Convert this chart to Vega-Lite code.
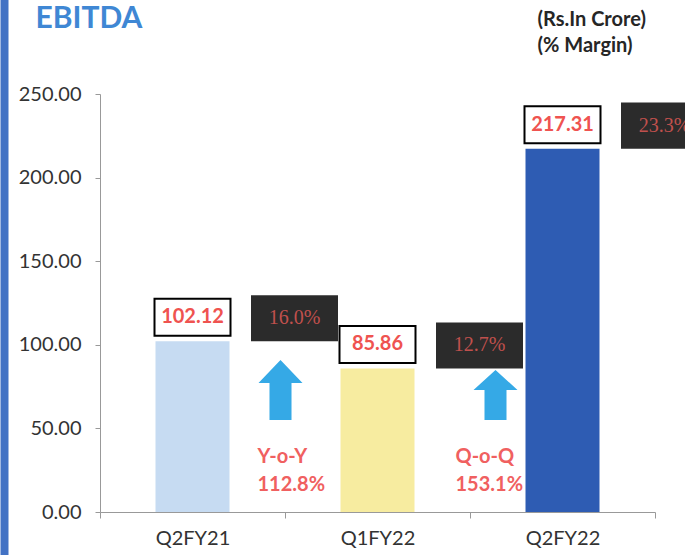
{
  "$schema": "https://vega.github.io/schema/vega-lite/v6.json",
  "width": 555,
  "height": 418,
  "autosize": {"type": "none"},
  "padding": {"left": 100, "top": 94, "right": 30, "bottom": 43},
  "background": "white",
  "config": {"view": {"stroke": null}, "font": "Lato"},
  "data": {"values": [
    {"quarter": "Q2FY21", "ebitda": 102.12, "label": "102.12", "margin": "16.0%"},
    {"quarter": "Q1FY22", "ebitda": 85.86, "label": "85.86", "margin": "12.7%"},
    {"quarter": "Q2FY22", "ebitda": 217.31, "label": "217.31", "margin": "23.3%"}
  ]},
  "layer": [
    {
      "mark": {"type": "bar", "width": {"band": 0.4}},
      "encoding": {
        "x": {"field": "quarter", "type": "nominal", "sort": null,
          "scale": {"domain": ["Q2FY21", "Q1FY22", "Q2FY22"], "paddingInner": 0, "paddingOuter": 0},
          "axis": {"title": null, "labelAngle": 0, "tickBand": "extent", "labelFont": "Lato", "labelFontSize": 20, "labelColor": "#333333", "labelPadding": 10, "tickSize": 6, "tickColor": "#999999", "domainColor": "#999999"}},
        "y": {"field": "ebitda", "type": "quantitative",
          "scale": {"domain": [0, 250], "nice": false},
          "axis": {"title": null, "values": [0, 50, 100, 150, 200, 250], "format": ".2f", "grid": false, "labelFont": "Lato", "labelFontSize": 20, "labelColor": "#333333", "labelPadding": 14, "tickSize": 5, "tickColor": "#999999", "domainColor": "#999999"}},
        "color": {"field": "quarter", "type": "nominal", "scale": {"domain": ["Q2FY21", "Q1FY22", "Q2FY22"], "range": ["#c6dbf2", "#f7eca0", "#2e5cb3"]}, "legend": null}
      }
    },
    {
      "data": {"values": [{"quarter": "Q2FY21", "part": "side strip"}]},
      "mark": {"type": "rule", "color": "#4272c4", "strokeWidth": 8, "xOffset": -188, "clip": false},
      "encoding": {"x": {"field": "quarter", "type": "nominal"}, "y": {"datum": 320}, "y2": {"datum": -30}}
    },
    {
      "data": {"values": [{"quarter": "Q2FY21", "title": "EBITDA"}]},
      "mark": {"type": "text", "align": "left", "baseline": "alphabetic", "font": "Lato", "fontSize": 30, "fontWeight": "bold", "color": "#3f87d4", "xOffset": -157},
      "encoding": {"x": {"field": "quarter", "type": "nominal"}, "y": {"datum": 289.5}, "text": {"field": "title"}}
    },
    {
      "data": {"values": [{"quarter": "Q2FY21", "kind": "Y-o-Y"}]},
      "mark": {"type": "point", "shape": "M0,-1L0.733,-0.233L0.367,-0.233L0.367,1L-0.367,1L-0.367,-0.233L-0.733,-0.233Z", "size": 3600, "filled": true, "color": "#35a9e6", "opacity": 1, "xOffset": 88},
      "encoding": {"x": {"field": "quarter", "type": "nominal"}, "y": {"datum": 73}}
    },
    {
      "data": {"values": [{"quarter": "Q1FY22", "kind": "Q-o-Q"}]},
      "mark": {"type": "point", "shape": "M0,-1L0.88,-0.2L0.44,-0.2L0.44,1L-0.44,1L-0.44,-0.2L-0.88,-0.2Z", "size": 2500, "filled": true, "color": "#35a9e6", "opacity": 1, "xOffset": 118},
      "encoding": {"x": {"field": "quarter", "type": "nominal"}, "y": {"datum": 70}}
    },
    {
      "data": {"values": [{"quarter": "Q2FY21", "note": "Y-o-Y\n112.8%"}]},
      "mark": {"type": "text", "align": "left", "baseline": "alphabetic", "lineBreak": "\n", "lineHeight": 28, "font": "Lato", "fontSize": 20, "fontWeight": "bold", "color": "#f06060", "xOffset": 65},
      "encoding": {"x": {"field": "quarter", "type": "nominal"}, "y": {"datum": 29.3}, "text": {"field": "note"}}
    },
    {
      "data": {"values": [{"quarter": "Q1FY22", "note": "Q-o-Q\n153.1%"}]},
      "mark": {"type": "text", "align": "left", "baseline": "alphabetic", "lineBreak": "\n", "lineHeight": 28, "font": "Lato", "fontSize": 20, "fontWeight": "bold", "color": "#f06060", "xOffset": 78},
      "encoding": {"x": {"field": "quarter", "type": "nominal"}, "y": {"datum": 29.3}, "text": {"field": "note"}}
    },
    {
      "mark": {"type": "point", "shape": "M-1,-0.487H1V0.487H-1Z", "size": 5776, "filled": true, "fill": "white", "stroke": "black", "strokeWidth": 2, "opacity": 1, "yOffset": -24},
      "encoding": {"x": {"field": "quarter", "type": "nominal"}, "y": {"field": "ebitda", "type": "quantitative"}}
    },
    {
      "mark": {"type": "text", "baseline": "middle", "font": "Lato", "fontSize": 20, "fontWeight": "bold", "color": "#ef5350", "yOffset": -24},
      "encoding": {"x": {"field": "quarter", "type": "nominal"}, "y": {"field": "ebitda", "type": "quantitative"}, "text": {"field": "label"}}
    },
    {
      "mark": {"type": "point", "shape": "M-1,-0.53H1V0.53H-1Z", "size": 7569, "filled": true, "fill": "#2b2b2b", "strokeWidth": 0, "opacity": 1, "xOffset": 102, "yOffset": -23},
      "encoding": {"x": {"field": "quarter", "type": "nominal"}, "y": {"field": "ebitda", "type": "quantitative"}}
    },
    {
      "mark": {"type": "text", "baseline": "middle", "font": "Liberation Serif", "fontSize": 20, "color": "#c0504d", "xOffset": 102, "yOffset": -23},
      "encoding": {"x": {"field": "quarter", "type": "nominal"}, "y": {"field": "ebitda", "type": "quantitative"}, "text": {"field": "margin"}}
    },
    {
      "data": {"values": [{"quarter": "Q2FY22", "note": "(Rs.In Crore)\n(% Margin)"}]},
      "mark": {"type": "text", "align": "left", "baseline": "alphabetic", "lineBreak": "\n", "lineHeight": 26, "font": "Lato", "fontSize": 20, "fontWeight": "bold", "color": "#262626", "xOffset": -25},
      "encoding": {"x": {"field": "quarter", "type": "nominal"}, "y": {"datum": 290.7}, "text": {"field": "note"}}
    }
  ]
}
